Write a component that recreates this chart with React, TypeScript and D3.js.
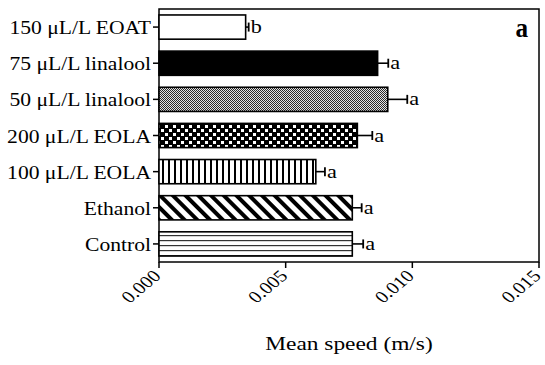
import React from "react";
import * as d3 from "d3";

// Treatments, top to bottom
const categories = [
  "150 μL/L EOAT",
  "75 μL/L linalool",
  "50 μL/L linalool",
  "200 μL/L EOLA",
  "100 μL/L EOLA",
  "Ethanol",
  "Control",
];
// Mean speed (m/s)
const means = [0.00342, 0.00863, 0.00903, 0.00783, 0.00619, 0.00763, 0.00763];
// Standard error (upper whisker only)
const errors = [0.00012, 0.00042, 0.00077, 0.00059, 0.00036, 0.00037, 0.00043];
// Significance letters
const letters = ["b", "a", "a", "a", "a", "a", "a"];
// Fill pattern ids per treatment
const fills = ["white", "black", "url(#pFine)", "url(#pCheck)", "url(#pVert)", "url(#pDiag)", "url(#pHoriz)"];
const xTicks = [0, 0.005, 0.01, 0.015];

const W = 545;
const H = 365;
const left = 159;
const right = 539;
const top = 9;
const bottom = 262;
const font = "Liberation Serif, Tinos, Times New Roman, Times, DejaVu Serif, serif";
// text is set a little wide
const SX = 1.2;

export default function App() {
  const x = d3.scaleLinear().domain([0, 0.015]).range([left, right]);
  const y = d3.scaleBand<string>().domain(categories).range([top, bottom]).paddingInner(0.33).paddingOuter(0.165);
  const bh = y.bandwidth();
  const tf = { fontFamily: font };

  return (
    <svg width={W} height={H} style={{ position: "absolute", left: 0, top: 0 }}>
      <defs>
        <pattern id="pFine" width={2} height={2} patternUnits="userSpaceOnUse">
          <rect width={2} height={2} fill="#e4e4e4" />
          <rect width={1} height={1} fill="#2a2a2a" />
          <rect x={1} y={1} width={1} height={1} fill="#2a2a2a" />
        </pattern>
        <pattern id="pCheck" width={8} height={8} patternUnits="userSpaceOnUse">
          <rect width={8} height={8} fill="#000" />
          <rect x={1} y={1} width={3} height={3} fill="#fff" />
          <rect x={5} y={5} width={3} height={3} fill="#fff" />
        </pattern>
        <pattern id="pVert" width={6} height={6} patternUnits="userSpaceOnUse">
          <rect width={6} height={6} fill="#fff" />
          <rect x={0} width={2} height={6} fill="#000" />
        </pattern>
        <pattern id="pDiag" width={9} height={9} patternUnits="userSpaceOnUse" patternTransform="rotate(-45)">
          <rect width={9} height={9} fill="#fff" />
          <rect x={0} width={4} height={9} fill="#000" />
        </pattern>
        <pattern id="pHoriz" width={5} height={5} patternUnits="userSpaceOnUse">
          <rect width={5} height={5} fill="#fff" />
          <rect y={0} width={5} height={1.2} fill="#333" />
        </pattern>
      </defs>

      {/* frame */}
      <rect x={left} y={top} width={right - left} height={bottom - top} fill="none" stroke="#000" strokeWidth={1.5} />

      {/* bars */}
      {categories.map((c, i) => {
        const y0 = y(c)!;
        const cy = y0 + bh / 2;
        const xe = x(means[i] + errors[i]);
        return (
          <g key={c}>
            <rect x={left} y={y0} width={x(means[i]) - left} height={bh} fill={fills[i]} stroke="#000" strokeWidth={1.6} />
            <line x1={x(means[i])} x2={xe} y1={cy} y2={cy} stroke="#000" strokeWidth={1.6} />
            <line x1={xe} x2={xe} y1={cy - 4.5} y2={cy + 4.5} stroke="#000" strokeWidth={1.8} />
            <text transform={`translate(${xe + 2},${cy + 6}) scale(${SX},1)`} style={tf} fontSize={18.5}>{letters[i]}</text>
            <line x1={left - 6} x2={left} y1={cy} y2={cy} stroke="#000" strokeWidth={1.5} />
            <text transform={`translate(${left - 8},${cy + 7}) scale(${SX},1)`} textAnchor="end" style={tf} fontSize={18}>{c}</text>
          </g>
        );
      })}

      {/* x axis */}
      {xTicks.map((t) => (
        <g key={t} transform={`translate(${x(t)},${bottom})`}>
          <line y1={0} y2={6} stroke="#000" strokeWidth={1.5} />
          <text transform={`translate(3,15) scale(${SX},1) rotate(-45)`} textAnchor="end" style={tf} fontSize={17}>
            {d3.format(".3f")(t)}
          </text>
        </g>
      ))}
      <text transform={`translate(${(left + right) / 2},350) scale(${SX},1)`} textAnchor="middle" style={tf} fontSize={19.5}>
        Mean speed (m/s)
      </text>
      <text transform="translate(528,37) scale(0.9,1)" textAnchor="end" style={tf} fontSize={28} fontWeight="bold">a</text>
    </svg>
  );
}
